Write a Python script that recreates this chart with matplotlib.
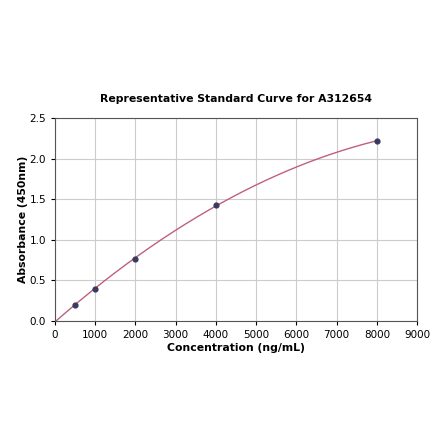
import numpy as np
import matplotlib
matplotlib.use("Agg")
import matplotlib.pyplot as plt

# standard points
conc = [500, 1000, 2000, 4000, 8000]
absorb = [0.20, 0.40, 0.77, 1.43, 2.22]

# smooth fitted curve through the standards (forced through origin)
x_fit = np.array([0] + conc, dtype=float)
y_fit = np.array([0] + absorb, dtype=float)
coef = np.polyfit(x_fit, y_fit, 2)
xs = np.linspace(0, 8000, 300)
ys = np.polyval(coef, xs)

fig = plt.figure(figsize=(4.4, 4.41), dpi=100)
ax = fig.add_axes([0.125, 0.272, 0.823, 0.46])

ax.plot(xs, ys, color="#c0607a", lw=1.0, zorder=2)
ax.scatter(conc, absorb, s=12, color="#3a3a60", zorder=3)

ax.set_xlim(0, 9000)
ax.set_ylim(0, 2.5)
ax.set_xticks(range(0, 9001, 1000))
ax.set_yticks(np.arange(0, 2.51, 0.5))
ax.tick_params(labelsize=7.5, length=3)
ax.grid(True, color="#cccccc", lw=0.8)
ax.set_axisbelow(True)
for s in ax.spines.values():
    s.set_color("#555555")
    s.set_linewidth(0.8)

ax.set_xlabel("Concentration (ng/mL)", fontsize=7.8, fontweight="bold", labelpad=2)
ax.set_ylabel("Absorbance (450nm)", fontsize=7.8, fontweight="bold", labelpad=1)
ax.set_title("Representative Standard Curve for A312654", fontsize=7.8,
             fontweight="bold", pad=12)

fig.savefig("out.png", dpi=100)
